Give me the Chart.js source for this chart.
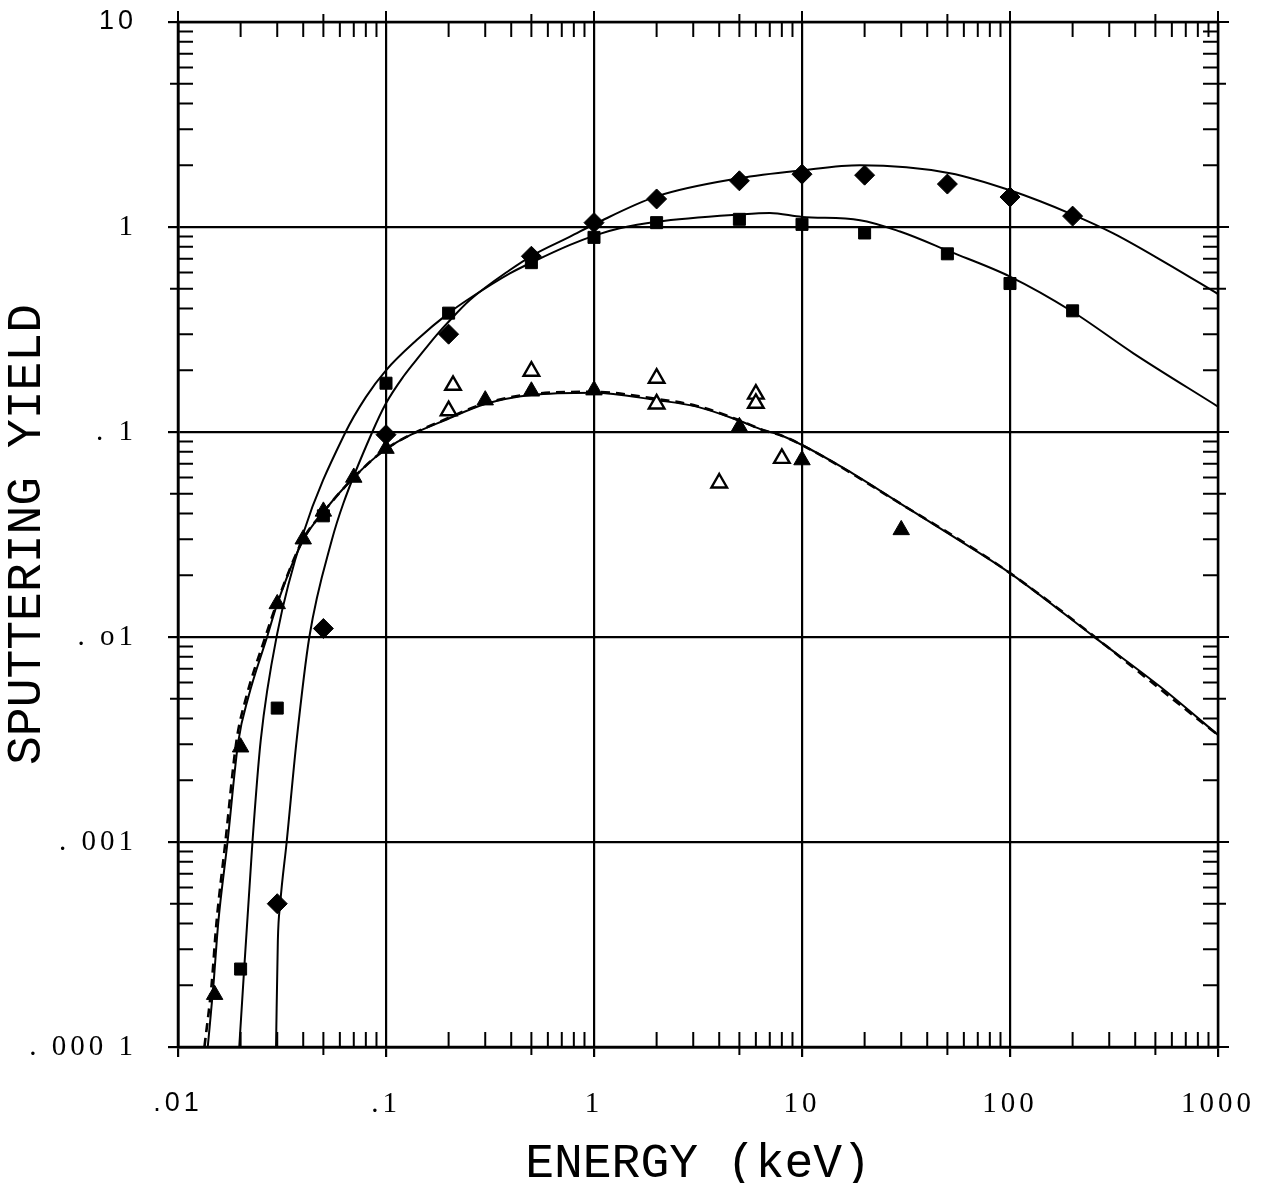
<!DOCTYPE html>
<html><head><meta charset="utf-8">
<script src="https://cdn.jsdelivr.net/npm/chart.js@4.4.1/dist/chart.umd.min.js"></script>
<style>html,body{margin:0;padding:0;background:#fff;}</style>
</head><body>
<canvas id="c" width="1266" height="1183"></canvas>
<script>
// ---- tick labels ----
const xTickValues = [0.01, 0.1, 1, 10, 100, 1000];
const xTickLabels = ['.01', '.1', '1', '10', '100', '1000'];
const yTickValues = [0.0001, 0.001, 0.01, 0.1, 1, 10];
const yTickLabels = ['. 000 1', '. 001', '. o1', '. 1', '1', '10'];

// ---- measured points ----
const diamondX = [0.03, 0.05, 0.1, 0.2, 0.5, 1, 2, 5, 10, 20, 50, 100, 200];
const diamondY = [0.0005, 0.011, 0.097, 0.30, 0.72, 1.05, 1.37, 1.68, 1.81, 1.79, 1.62, 1.40, 1.13];

const squareX = [0.02, 0.03, 0.05, 0.1, 0.2, 0.5, 1, 2, 5, 10, 20, 50, 100, 200];
const squareY = [0.00024, 0.0045, 0.039, 0.173, 0.38, 0.67, 0.89, 1.05, 1.09, 1.03, 0.935, 0.74, 0.53, 0.39];

const filledTriX = [0.015, 0.02, 0.03, 0.04, 0.05, 0.07, 0.1, 0.3, 0.5, 1, 5, 10, 30];
const filledTriY = [0.00018, 0.0029, 0.0145, 0.030, 0.041, 0.060, 0.083, 0.143, 0.158, 0.16, 0.106, 0.073, 0.0333];

const openTriX = [0.2, 0.21, 0.5, 2, 2, 4, 6, 6, 8];
const openTriY = [0.127, 0.169, 0.198, 0.183, 0.137, 0.0564, 0.153, 0.138, 0.0744];

// ---- calculated curves ----
const curveDiamondX = [0.0296, 0.0302, 0.031, 0.0333, 0.0372, 0.0428, 0.0549, 0.0624, 0.0854, 0.1, 0.121, 0.146, 0.175, 0.2, 0.253, 0.394, 0.51, 0.767, 1.02, 2, 5, 10, 19, 51.5, 100, 200, 314, 566, 1000];
const curveDiamondY = [0.0001, 0.00033, 0.0005, 0.001, 0.00315, 0.01, 0.0297, 0.0449, 0.0986, 0.138, 0.186, 0.237, 0.297, 0.345, 0.44, 0.617, 0.73, 0.897, 1.04, 1.41, 1.73, 1.89, 2.0, 1.83, 1.51, 1.15, 0.931, 0.665, 0.471];

const curveSquareX = [0.0197, 0.0228, 0.025, 0.030, 0.04, 0.0635, 0.08, 0.1, 0.14, 0.2, 0.253, 0.394, 0.51, 0.767, 1.02, 1.33, 2, 5, 7, 10, 19, 29.6, 51.5, 100, 200, 392, 1000];
const curveSquareY = [0.0001, 0.001, 0.00315, 0.0104, 0.032, 0.0986, 0.148, 0.2, 0.28, 0.38, 0.449, 0.594, 0.677, 0.818, 0.913, 0.986, 1.06, 1.15, 1.17, 1.12, 1.08, 0.95, 0.758, 0.573, 0.386, 0.242, 0.133];

const curveTriX = [0.0139, 0.0148, 0.0156, 0.0173, 0.0195, 0.0218, 0.0268, 0.03, 0.04, 0.05, 0.07, 0.1, 0.211, 0.3, 0.5, 1, 2, 3.12, 5, 6.52, 7.84, 10, 16.4, 29.6, 53.4, 100, 266, 526, 1000];
const curveTriY = [0.0001, 0.0002, 0.0004, 0.001, 0.0031, 0.0051, 0.01, 0.0145, 0.0297, 0.0407, 0.06, 0.0826, 0.119, 0.137, 0.1515, 0.1555, 0.143, 0.133, 0.1135, 0.102, 0.0967, 0.0864, 0.0653, 0.0449, 0.0309, 0.0205, 0.00966, 0.00573, 0.00333];

const curveTriDashX = [0.0134, 0.0145, 0.0153, 0.0169, 0.0191, 0.0213, 0.0263, 0.03, 0.04, 0.05, 0.07, 0.1, 0.211, 0.3, 0.5, 1, 2, 3.12, 5, 6.52, 7.84, 10, 30, 100, 1000];
const curveTriDashY = [0.0001, 0.0002, 0.0004, 0.001, 0.0031, 0.0051, 0.01, 0.0148, 0.0300, 0.0407, 0.06, 0.0826, 0.12, 0.138, 0.153, 0.157, 0.145, 0.134, 0.114, 0.102, 0.0967, 0.0864, 0.0445, 0.0205, 0.00333];

const pts = (xs, ys) => xs.map((x, i) => ({ x, y: ys[i] }));

const serif = { family: 'Liberation Serif', size: 29 };
const sans = { family: 'Liberation Sans', size: 27 };

// tick labels in the original are typed with a wide letter spacing
const spaceLabels = s => {
  if (s._spaced) return;
  const orig = s.drawLabels;
  s.drawLabels = function (ca) {
    const c = this.ctx; const prev = c.letterSpacing;
    c.letterSpacing = '4px';
    orig.call(this, ca);
    c.letterSpacing = prev || '0px';
  };
  s._spaced = true;
};

const frameTicks = {
  id: 'frameTicks',
  beforeDatasetsDraw(chart) {
    const { ctx, chartArea: a, scales: { x, y } } = chart;
    ctx.save();
    ctx.strokeStyle = '#000';
    ctx.lineCap = 'butt';
    ctx.lineWidth = 2.5;
    ctx.strokeRect(a.left, a.top, a.right - a.left, a.bottom - a.top);
    ctx.lineWidth = 2;
    const L = 15, O = 8, E = 11;
    ctx.beginPath();
    for (let d = -2; d <= 3; d++) {
      const dec = Math.pow(10, d);
      const p = x.getPixelForValue(dec);
      ctx.moveTo(p, a.top); ctx.lineTo(p, a.top - E);
      if (d === 3) break;
      for (let k = 2; k <= 9; k++) {
        const px = x.getPixelForValue(k * dec);
        ctx.moveTo(px, a.bottom + (k === 5 ? O : 0)); ctx.lineTo(px, a.bottom - L);
        ctx.moveTo(px, a.top - (k === 5 ? O : 0)); ctx.lineTo(px, a.top + L);
      }
    }
    for (let d = -4; d <= 1; d++) {
      const dec = Math.pow(10, d);
      const p = y.getPixelForValue(dec);
      ctx.moveTo(a.right, p); ctx.lineTo(a.right + E, p);
      if (d === 1) break;
      for (let k = 2; k <= 9; k++) {
        const py = y.getPixelForValue(k * dec);
        ctx.moveTo(a.left - (k === 5 ? O : 0), py); ctx.lineTo(a.left + L, py);
        ctx.moveTo(a.right + (k === 5 ? O : 0), py); ctx.lineTo(a.right - L, py);
      }
    }
    ctx.stroke();
    ctx.restore();
  }
};

const lineDs = (label, xs, ys, dash) => ({
  label, data: pts(xs, ys), showLine: true, pointRadius: 0, borderColor: '#000',
  borderWidth: dash ? 2.6 : 2, borderDash: dash ? [9, 6] : [], cubicInterpolationMode: 'monotone', order: 2, fill: false
});
const markDs = (label, xs, ys, style, r, bg, bw) => ({
  label, data: pts(xs, ys), showLine: false, pointStyle: style, pointRadius: r, pointHoverRadius: r,
  backgroundColor: bg, borderColor: '#000', borderWidth: bw, order: 0
});

new Chart(document.getElementById('c'), {
  type: 'scatter',
  data: {
    datasets: [
      lineDs('calc (dashed)', curveTriDashX, curveTriDashY, true),
      lineDs('calc triangles', curveTriX, curveTriY, false),
      lineDs('calc squares', curveSquareX, curveSquareY, false),
      lineDs('calc diamonds', curveDiamondX, curveDiamondY, false),
      markDs('diamonds', diamondX, diamondY, 'rectRot', 10, '#000', 1),
      markDs('squares', squareX, squareY, 'rect', 8.5, '#000', 1),
      markDs('filled triangles', filledTriX, filledTriY, 'triangle', 9.5, '#000', 1),
      markDs('open triangles', openTriX, openTriY, 'triangle', 9, '#fff', 2.4)
    ]
  },
  options: {
    responsive: false, animation: false, devicePixelRatio: 1,
    layout: { padding: { top: 22, right: 48, left: 0, bottom: 0 } },
    plugins: { legend: { display: false }, tooltip: { enabled: false } },
    scales: {
      x: {
        type: 'logarithmic', min: 0.01, max: 1000, position: 'bottom',
        afterBuildTicks: s => { s.ticks = xTickValues.map(v => ({ value: v })); },
        afterFit: s => { s.height = 136; s.paddingLeft = 0; s.paddingRight = 0; s.paddingTop = 0; s.paddingBottom = 0; spaceLabels(s); },
        grid: { color: '#000', lineWidth: 2.2, drawTicks: true, tickLength: 10, tickColor: '#000', tickWidth: 2.2 },
        border: { display: true, color: '#000', width: 2.5 },
        ticks: { autoSkip: false, maxRotation: 0, padding: 30, color: '#000',
          font: c => (c.index === 0 ? sans : serif),
          callback: (v, i) => xTickLabels[i] },
        title: { display: true, text: 'ENERGY (keV)', color: '#000',
          font: { family: 'Liberation Mono', size: 48, lineHeight: 0.8 }, padding: 0 }
      },
      y: {
        type: 'logarithmic', min: 0.0001, max: 10, position: 'left',
        afterBuildTicks: s => { s.ticks = yTickValues.map(v => ({ value: v })); },
        afterFit: s => { s.width = 178; s.paddingLeft = 0; s.paddingRight = 0; s.paddingTop = 0; s.paddingBottom = 0; spaceLabels(s); },
        grid: { color: '#000', lineWidth: 2.2, drawTicks: true, tickLength: 10, tickColor: '#000', tickWidth: 2.2 },
        border: { display: true, color: '#000', width: 2.5 },
        ticks: { autoSkip: false, padding: 31, color: '#000',
          font: c => (c.index === 5 ? sans : serif),
          callback: (v, i) => yTickLabels[i] },
        title: { display: true, text: 'SPUTTERING YIELD', color: '#000',
          font: { family: 'Liberation Mono', size: 48, lineHeight: 1 }, padding: { top: 3, bottom: 0 } }
      }
    }
  },
  plugins: [frameTicks]
});
</script>
</body></html>
